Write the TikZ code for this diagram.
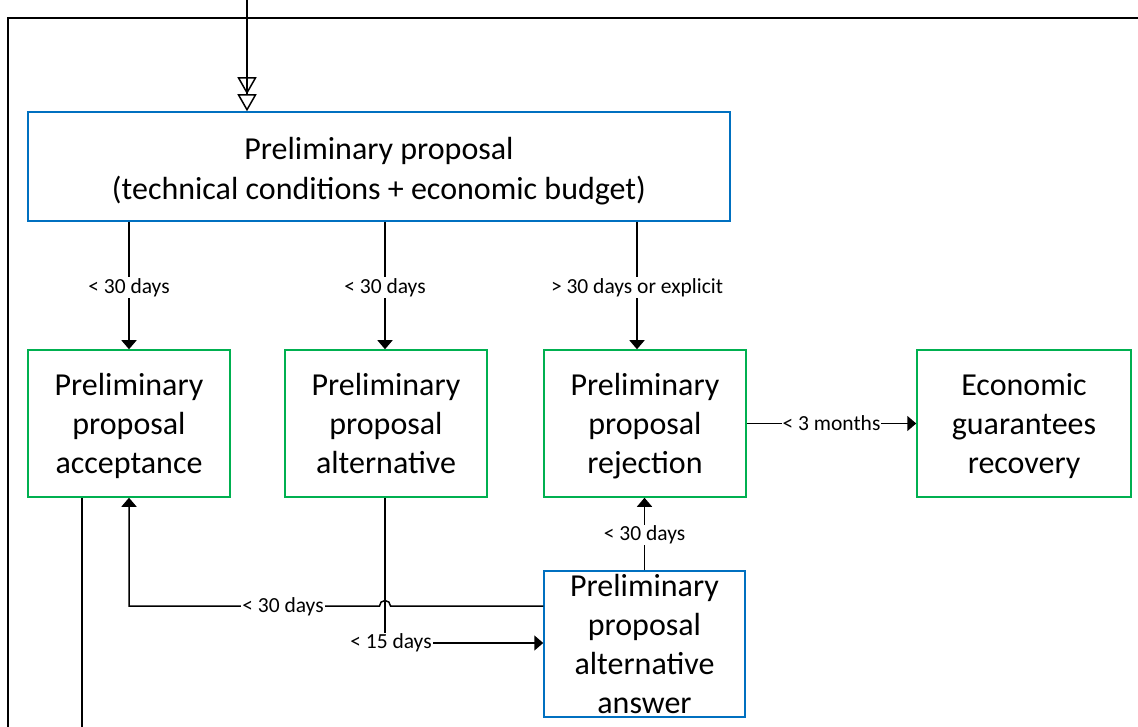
\documentclass[tikz,border=0pt]{standalone}
\usepackage{fontspec}
\setmainfont{Carlito}
\usetikzlibrary{arrows.meta}
\definecolor{boxblue}{HTML}{0070C0}
\definecolor{boxgreen}{HTML}{00B050}
% invisible strut that lowers a text block a little inside its box
\newcommand{\lowerstrut}[1]{\rule{0pt}{#1}}
\begin{document}
\begin{tikzpicture}[x=1pt,y=-1pt,line width=1.5pt,
  boxbase/.style={rectangle,inner sep=0pt,align=center,
    font=\fontsize{32}{39}\selectfont},
  bluebox/.style={boxbase,draw=boxblue},
  greenbox/.style={boxbase,draw=boxgreen},
  lbl/.style={fill=white,inner sep=1pt,font=\fontsize{21.5}{25}\selectfont},
  arr/.style={-{Triangle[length=9pt,width=15pt]}},
  dblarr/.style={-{Triangle[open,length=17pt,width=19pt,line width=1.5pt]Triangle[open,length=17pt,width=19pt,line width=1.5pt]}}]
\useasboundingbox (0,0) rectangle (1138,727);

% boxes
\node[bluebox,minimum width=702pt,minimum height=109pt,font=\fontsize{32}{40}\selectfont] (top) at (379,166.5)
  {\lowerstrut{31pt}Preliminary proposal\\(technical conditions + economic budget)};
\node[greenbox,minimum width=202pt,minimum height=147pt] (acc) at (129,423.5)
  {\lowerstrut{27pt}Preliminary\\proposal\\acceptance};
\node[greenbox,minimum width=202pt,minimum height=147pt] (alt) at (386,423.5)
  {\lowerstrut{27pt}Preliminary\\proposal\\alternative\vphantom{y}};
\node[greenbox,minimum width=202pt,minimum height=147pt] (rej) at (645,423.5)
  {\lowerstrut{27pt}Preliminary\\proposal\\rejection};
\node[greenbox,minimum width=214pt,minimum height=147pt] (eco) at (1024,423.5)
  {\lowerstrut{27pt}Economic\\guarantees\\recovery};
\node[bluebox,minimum width=201pt,minimum height=146pt] (ans) at (644.5,644)
  {Preliminary\\proposal\\alternative\\answer};

% outer frame and incoming / outgoing lines
\coordinate (frameBL) at (8,729);
\coordinate (frameTR) at (1140,18);
\draw (frameBL) |- (frameTR);
\coordinate (src) at (247,-2);
\draw[dblarr] (src) -- (src |- top.north);
\coordinate (out) at (82,729);
\draw (out |- acc.south) -- (out);

% from the preliminary proposal
\coordinate (t1) at (129,0);
\coordinate (t2) at (385,0);
\coordinate (t3) at (637,0);
\draw[arr] (t1 |- top.south) -- node[lbl,pos=0.5,yshift=-2pt] {< 30 days} (t1 |- acc.north);
\draw[arr] (t2 |- top.south) -- node[lbl,pos=0.5,yshift=-2pt] {< 30 days} (t2 |- alt.north);
\draw[arr] (t3 |- top.south) -- node[lbl,pos=0.5,yshift=-2pt] {> 30 days or explicit} (t3 |- rej.north);

% rejection to guarantees recovery
\draw[arr] (rej.east) -- node[lbl] {< 3 months} (eco.west);

% answer to rejection
\draw[arr] (ans.north) -- node[lbl,yshift=-1pt] {< 30 days} (ans.north |- rej.south);

% answer back to acceptance, hopping over the alternative line
\coordinate (hop) at (385,606);
\draw[arr] (ans.west |- hop) -- ([xshift=5.5pt]hop) arc[start angle=0,end angle=180,radius=5.5pt]
  -- (t1 |- hop) -- (t1 |- acc.south);
\node[lbl] (l30) at (283,607) {< 30 days};

% alternative to answer
\coordinate (bend) at (385,643);
\draw[arr] (t2 |- alt.south) -- (bend) -- (ans.west |- bend);
\node[lbl] (l15) at (391,643) {< 15 days};
\end{tikzpicture}
\end{document}
